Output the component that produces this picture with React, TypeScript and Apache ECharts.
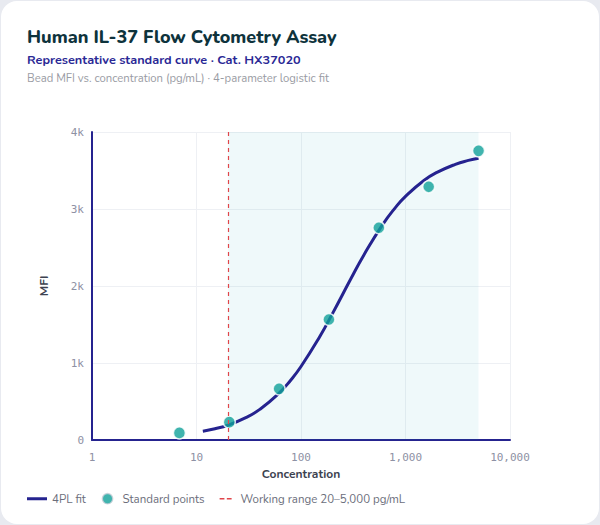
import React, { useEffect, useRef } from 'react';
import * as echarts from 'echarts';

// standard points (3-fold serial dilution)
const standardConc = [6.86, 20.6, 61.7, 185, 556, 1667, 5000];
const standardMfi = [92, 232, 664, 1565, 2757, 3288, 3755];

// 4PL fitted curve
const fitConc = [11.5, 15, 20, 30, 40, 60, 80, 100, 150, 200, 300, 400, 600, 800, 1000, 1500, 2000, 3000, 4000, 5000];
const fitMfi = [115, 146, 192, 293, 394, 592, 780, 954, 1335, 1641, 2094, 2404, 2791, 3018, 3164, 3370, 3475, 3580, 3631, 3660];

const workingRange = [20, 5000];
const yTicks = [0, 1000, 2000, 3000, 4000];

const FONT = 'Nunito, Lato, "Noto Sans", sans-serif';
const MONO = '"DejaVu Sans Mono", monospace';

const NAVY = '#25238f';
const TEAL = '#10a19a';
const RED = '#e0454a';

// legend icons: the leading moves pin the 20x14 box so the marks keep their size
const lineIcon = 'path://M0,0M20,14M0,5.5H20V8.5H0Z';
const dashIcon = 'path://M0,0M20,14M4,6.2H8.8V7.8H4Z M11.2,6.2H16V7.8H11.2Z';
const dotIcon = 'path://M0,0M20,14M4.8,7A5.2,5.2,0,1,1,15.2,7A5.2,5.2,0,1,1,4.8,7Z';

const StandardCurve: React.FC = () => {
  const chartRef = useRef<HTMLDivElement>(null);

  useEffect(() => {
    const chart = echarts.init(chartRef.current!, null, { renderer: 'svg' });

    const option = {
      animation: false,
      textStyle: { fontFamily: FONT },
      title: [
        {
          text: 'Human IL-37 Flow Cytometry Assay',
          left: 26,
          top: 27,
          padding: 0,
          textStyle: { fontSize: 18, fontWeight: 800, color: '#0e333c', fontFamily: FONT },
        },
        {
          text: 'Representative standard curve · Cat. HX37020',
          left: 26,
          top: 52,
          padding: 0,
          textStyle: { fontSize: 12.7, fontWeight: 700, color: '#2a2895', fontFamily: FONT },
        },
        {
          text: 'Bead MFI vs. concentration (pg/mL) · 4-parameter logistic fit',
          left: 26,
          top: 72,
          padding: 0,
          textStyle: { fontSize: 11.3, fontWeight: 400, color: '#9a9ca4', fontFamily: FONT },
        },
      ],
      legend: {
        left: 21,
        top: 485,
        itemWidth: 20,
        itemHeight: 14,
        itemGap: 11,
        textStyle: { fontSize: 11.5, color: '#6b6e7b', fontFamily: FONT },
        data: [
          { name: '4PL fit', icon: lineIcon },
          {
            name: 'Standard points',
            icon: dotIcon,
            itemStyle: { color: TEAL, borderColor: '#c9ced8', borderWidth: 1.4 },
          },
          { name: 'Working range 20–5,000 pg/mL', icon: dashIcon },
        ],
      },
      grid: { left: 91, right: 89, top: 131, bottom: 84, containLabel: false },
      xAxis: {
        type: 'log',
        logBase: 10,
        min: 1,
        max: 10000,
        name: 'Concentration',
        nameLocation: 'middle',
        nameGap: 23,
        nameTextStyle: { fontSize: 12, fontWeight: 700, color: '#3c4250', fontFamily: FONT },
        axisLine: { show: true, lineStyle: { color: NAVY, width: 2 } },
        axisTick: { show: false },
        axisLabel: {
          fontFamily: MONO,
          fontSize: 11,
          color: '#8e91a4',
          margin: 12,
          formatter: (v: number) => Math.round(v).toLocaleString('en-US'),
        },
        splitLine: { show: true, lineStyle: { color: '#eef0f4', width: 1 } },
        minorSplitLine: { show: false },
      },
      yAxis: {
        type: 'value',
        min: yTicks[0],
        max: yTicks[yTicks.length - 1],
        interval: 1000,
        name: 'MFI',
        nameLocation: 'middle',
        nameGap: 42,
        nameTextStyle: { fontSize: 12, fontWeight: 700, color: '#3c4250', fontFamily: FONT },
        axisLine: { show: true, lineStyle: { color: NAVY, width: 2 } },
        axisTick: { show: false },
        axisLabel: {
          fontFamily: MONO,
          fontSize: 11,
          color: '#8e91a4',
          margin: 8,
          formatter: (v: number) => (v === 0 ? '0' : v / 1000 + 'k'),
        },
        splitLine: { show: true, lineStyle: { color: '#eef0f4', width: 1 } },
      },
      series: [
        {
          name: 'Working range 20–5,000 pg/mL',
          type: 'line',
          data: [],
          symbol: 'none',
          lineStyle: { color: RED, type: [4, 4], width: 1.5 },
          itemStyle: { color: RED },
          markArea: {
            silent: true,
            itemStyle: { color: 'rgba(32, 170, 180, 0.07)' },
            data: [[{ xAxis: workingRange[0] }, { xAxis: workingRange[1] }]],
          },
          markLine: {
            silent: true,
            symbol: 'none',
            label: { show: false },
            lineStyle: { color: RED, type: [4, 4], width: 1.2 },
            data: [{ xAxis: workingRange[0] }],
          },
        },
        {
          name: '4PL fit',
          type: 'line',
          data: fitConc.map((c, i) => [c, fitMfi[i]]),
          smooth: true,
          symbol: 'none',
          lineStyle: { color: NAVY, width: 3 },
          itemStyle: { color: NAVY },
          z: 3,
        },
        {
          name: 'Standard points',
          type: 'scatter',
          data: standardConc.map((c, i) => [c, standardMfi[i]]),
          symbolSize: 12,
          itemStyle: { color: TEAL, borderColor: '#ffffff', borderWidth: 1.5 },
          z: 4,
        },
      ],
    };

    chart.setOption(option);
    return () => {
      chart.dispose();
    };
  }, []);

  return <div ref={chartRef} style={{ width: '100%', height: '100%' }} />;
};

export default function App() {
  return (
    <div
      style={{
        position: 'fixed',
        inset: 0,
        background: '#e8eaf0',
        padding: 1,
        boxSizing: 'border-box',
      }}
    >
      <div
        style={{
          width: '100%',
          height: '100%',
          background: '#ffffff',
          borderRadius: 16,
          overflow: 'hidden',
        }}
      >
        <StandardCurve />
      </div>
    </div>
  );
}
